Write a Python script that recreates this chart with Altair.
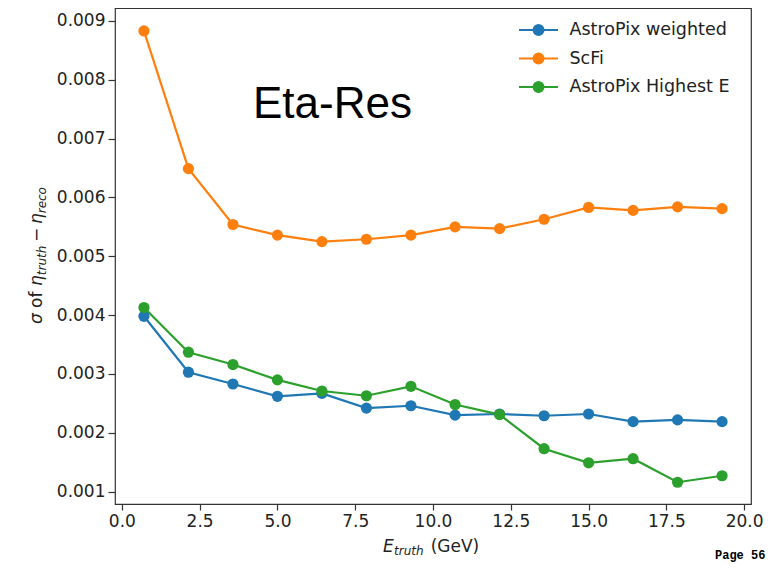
import pandas as pd
import altair as alt

# bin centres of E_truth (GeV)
energy = [0.71, 2.14, 3.57, 5.0, 6.43, 7.86, 9.29, 10.71, 12.14, 13.57, 15.0, 16.43, 17.86, 19.29]

astropix_weighted = [0.00398, 0.00303, 0.00283, 0.00262, 0.00267, 0.00242, 0.00246,
                     0.00230, 0.00232, 0.00229, 0.00232, 0.00219, 0.00222, 0.00219]
scfi = [0.00883, 0.00649, 0.00554, 0.00536, 0.00525, 0.00529, 0.00536,
        0.00550, 0.00547, 0.00563, 0.00583, 0.00578, 0.00584, 0.00581]
astropix_highest = [0.00413, 0.00337, 0.00316, 0.00290, 0.00271, 0.00263, 0.00279,
                    0.00248, 0.00231, 0.00173, 0.00149, 0.00156, 0.00116, 0.00127]

series_names = ["AstroPix weighted", "ScFi", "AstroPix Highest E"]
series_colors = ["#1f77b4", "#ff7f0e", "#2ca02c"]

x_ticks = [0.0, 2.5, 5.0, 7.5, 10.0, 12.5, 15.0, 17.5, 20.0]
y_ticks = [0.001, 0.002, 0.003, 0.004, 0.005, 0.006, 0.007, 0.008, 0.009]

rows = []
for name, vals in zip(series_names, [astropix_weighted, scfi, astropix_highest]):
    for e, v in zip(energy, vals):
        rows.append({"energy": e, "sigma": v, "series": name})
df = pd.DataFrame(rows)

FONT = "DejaVu Sans"
INK = "#222222"

x_enc = alt.X("energy:Q", scale=alt.Scale(domain=[-0.22, 20.22], nice=False, zero=False),
              axis=alt.Axis(values=x_ticks, format=".1f", title=None))
y_enc = alt.Y("sigma:Q", scale=alt.Scale(domain=[0.00079, 0.00922], nice=False, zero=False),
              axis=alt.Axis(values=y_ticks, format=".3f", title=None))

# legend glyph: line + marker + tiny error bar, like matplotlib's errorbar handle
legend_path = ("M-1.95,0H1.95M0.5,0A0.5,0.5,0,1,1,-0.5,0A0.5,0.5,0,1,1,0.5,0Z"
               "M0,-0.6V0.6")
color_scale = alt.Scale(domain=series_names, range=series_colors)
legend = alt.Legend(
    title=None, orient="none", legendX=412.5, legendY=11,
    symbolType=legend_path, symbolSize=400, symbolStrokeWidth=2, symbolOpacity=1,
    labelFont=FONT, labelFontSize=17.5, labelColor=INK, labelLimit=400,
    labelOffset=20, rowPadding=7.5, padding=0,
)

lines = alt.Chart(df).mark_line(strokeWidth=2.2).encode(
    x=x_enc, y=y_enc,
    stroke=alt.Stroke("series:N", scale=color_scale, sort=series_names, legend=legend),
    order="energy:Q",
)

points = alt.Chart(df).mark_circle(size=125, opacity=1).encode(
    x=x_enc, y=y_enc,
    fill=alt.Fill("series:N", scale=color_scale, sort=series_names, legend=legend),
)


def label(text, x, y, size, italic=False, angle=0, font=FONT, bold=False, color=INK):
    kw = dict(text=text, align="left", baseline="alphabetic", font=font,
              fontSize=size, color=color, angle=angle)
    if italic:
        kw["fontStyle"] = "italic"
    if bold:
        kw["fontWeight"] = "bold"
    return alt.Chart(pd.DataFrame({"k": [0]})).mark_text(**kw).encode(
        x=alt.value(x), y=alt.value(y))


# x-axis title: E_truth (GeV)
x_title = [
    label("E", 268, 543.5, 17, italic=True),
    label("truth", 279, 547, 12, italic=True),
    label("(GeV)", 315.7, 543.5, 17),
]

# y-axis title: sigma of eta_truth - eta_reco (rotated)
y_title = [
    label("σ", -73, 316, 17, italic=True, angle=270),
    label("of", -73, 300, 17, angle=270),
    label("η", -73, 278, 17, italic=True, angle=270),
    label("truth", -69, 267.2, 12, italic=True, angle=270),
    label("−", -73, 234, 17, angle=270),
    label("η", -73, 216.1, 17, italic=True, angle=270),
    label("reco", -69, 205.3, 12, italic=True, angle=270),
]

eta_res = label("Eta-Res", 138, 110, 44, font="Liberation Sans", color="#000000")
page_no = label("Page 56", 600, 551, 12, font="Liberation Mono", bold=True, color="#000000")

chart = alt.layer(lines, points, eta_res, page_no, *x_title, *y_title).properties(
    width=636, height=496,
    padding={"left": 107, "top": 0, "right": 17, "bottom": 60},
    autosize=alt.AutoSizeParams(type="none"),
).configure_view(
    stroke="#333333", strokeWidth=1.2,
).configure_axis(
    grid=False, domain=False,
    tickColor="#333333", tickWidth=1.2, tickSize=6,
    labelFont=FONT, labelFontSize=17, labelColor=INK, labelPadding=3,
).configure_axisY(
    tickSize=7,
)

chart.save("out.html", embed_options={"renderer": "svg", "actions": False})
